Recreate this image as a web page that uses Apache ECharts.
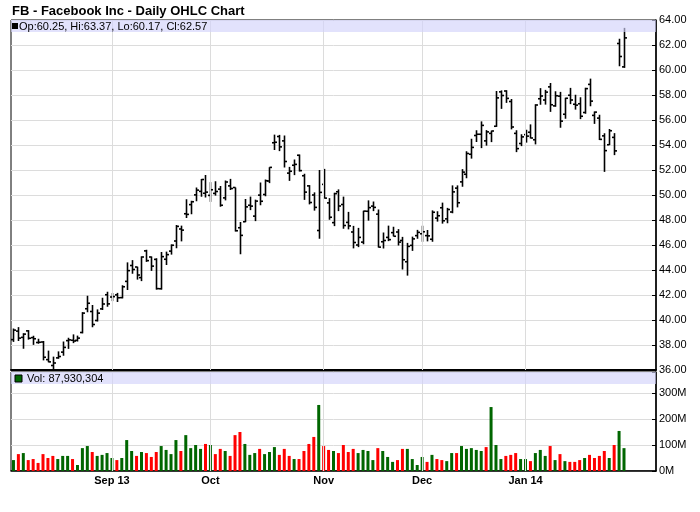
<!DOCTYPE html>
<html>
<head>
<meta charset="utf-8">
<script src="https://cdn.jsdelivr.net/npm/echarts@6/dist/echarts.min.js"></script>
<style>html,body{margin:0;padding:0;background:#fff}#c{width:700px;height:512px}</style>
</head>
<body>
<div id="c"></div>
<script>
const dates = [
'2013-08-05','2013-08-06','2013-08-07','2013-08-08','2013-08-09','2013-08-12','2013-08-13','2013-08-14','2013-08-15','2013-08-16',
'2013-08-19','2013-08-20','2013-08-21','2013-08-22','2013-08-23','2013-08-26','2013-08-27','2013-08-28','2013-08-29','2013-08-30',
'2013-09-03','2013-09-04','2013-09-05','2013-09-06','2013-09-09','2013-09-10','2013-09-11','2013-09-12','2013-09-13','2013-09-16',
'2013-09-17','2013-09-18','2013-09-19','2013-09-20','2013-09-23','2013-09-24','2013-09-25','2013-09-26','2013-09-27','2013-09-30',
'2013-10-01','2013-10-02','2013-10-03','2013-10-04','2013-10-07','2013-10-08','2013-10-09','2013-10-10','2013-10-11','2013-10-14',
'2013-10-15','2013-10-16','2013-10-17','2013-10-18','2013-10-21','2013-10-22','2013-10-23','2013-10-24','2013-10-25','2013-10-28',
'2013-10-29','2013-10-30','2013-10-31','2013-11-01','2013-11-04','2013-11-05','2013-11-06','2013-11-07','2013-11-08','2013-11-11',
'2013-11-12','2013-11-13','2013-11-14','2013-11-15','2013-11-18','2013-11-19','2013-11-20','2013-11-21','2013-11-22','2013-11-25',
'2013-11-26','2013-11-27','2013-11-29','2013-12-02','2013-12-03','2013-12-04','2013-12-05','2013-12-06','2013-12-09','2013-12-10',
'2013-12-11','2013-12-12','2013-12-13','2013-12-16','2013-12-17','2013-12-18','2013-12-19','2013-12-20','2013-12-23','2013-12-24',
'2013-12-26','2013-12-27','2013-12-30','2013-12-31','2014-01-02','2014-01-03','2014-01-06','2014-01-07','2014-01-08','2014-01-09',
'2014-01-10','2014-01-13','2014-01-14','2014-01-15','2014-01-16','2014-01-17','2014-01-21','2014-01-22','2014-01-23','2014-01-24',
'2014-01-27','2014-01-28','2014-01-29','2014-01-30','2014-01-31'];

const openP = [
38.43,39.11,38.61,39.13,38.59,38.20,38.24,36.83,36.36,36.97,
37.43,38.35,38.38,38.37,39.00,40.90,40.68,39.96,40.89,42.02,
41.84,42.01,41.79,43.09,44.36,44.24,43.39,45.53,45.04,44.85,
42.50,44.86,45.51,46.32,47.28,48.50,49.23,50.01,50.29,50.14,
49.97,50.13,50.47,49.77,50.73,50.60,47.38,47.86,49.18,48.31,
49.99,50.04,51.12,54.18,54.68,54.33,51.75,52.38,53.18,51.54,
50.73,50.00,47.16,50.85,49.37,47.79,50.26,49.24,47.81,47.04,
46.00,46.23,48.70,49.11,48.47,46.26,46.61,46.99,47.04,46.36,
44.66,45.97,46.75,46.90,46.75,46.46,48.15,48.98,48.09,48.64,
50.55,51.05,51.66,53.26,54.76,54.86,54.33,54.93,55.50,58.25,
58.32,57.48,54.93,54.12,54.83,55.02,54.42,57.70,57.60,58.65,
57.13,57.91,56.46,57.98,57.26,57.30,56.60,58.85,56.37,56.15,
54.73,54.02,54.61,62.12,60.25];

const highP = [
39.32,39.43,38.94,39.19,38.74,38.50,38.32,37.55,37.07,37.49,
38.28,38.58,38.85,38.75,40.63,41.94,41.20,40.85,41.78,42.26,
42.16,42.17,42.78,44.61,44.79,44.26,45.09,45.62,45.08,44.94,
45.44,45.47,46.05,47.60,47.55,49.66,49.54,50.60,51.28,51.60,
51.03,51.10,50.72,51.16,51.29,50.60,47.84,49.68,49.87,49.63,
51.00,51.24,52.22,54.83,54.81,54.76,52.25,52.84,53.24,51.70,
50.79,50.21,52.00,52.09,49.75,50.18,50.45,49.87,48.65,47.53,
47.37,48.74,49.57,49.48,48.84,47.00,47.55,47.46,47.27,46.65,
46.17,46.67,47.21,47.54,47.20,48.77,48.70,49.39,48.97,50.77,
50.77,52.07,53.50,54.50,55.18,55.89,55.19,55.15,58.32,58.37,
58.38,57.68,55.18,54.86,55.22,55.65,57.26,58.55,58.41,58.96,
58.30,58.25,57.78,58.57,58.02,57.82,58.58,59.31,56.68,56.42,
54.94,55.28,54.95,62.50,63.37];

const lowP = [
38.25,38.32,37.70,38.43,38.01,38.10,36.77,36.62,36.02,36.90,
37.14,37.69,38.15,38.28,38.93,40.62,39.42,39.88,40.80,41.06,
41.51,41.44,41.73,42.40,43.70,43.23,43.11,44.65,43.93,42.43,
42.43,44.40,45.23,45.74,46.29,48.16,48.46,49.50,49.86,49.80,
49.45,49.95,49.06,49.57,50.40,47.08,45.26,47.83,48.79,47.91,
49.18,49.90,50.95,53.60,53.51,52.20,51.13,51.59,51.88,49.61,
49.25,48.75,46.50,49.72,48.02,47.51,48.71,47.30,47.25,45.73,
45.83,46.06,47.95,48.71,45.80,45.72,46.31,46.69,45.96,44.04,
43.55,45.53,46.50,46.26,46.29,46.26,47.87,47.71,47.74,48.54,
49.01,50.66,51.34,52.91,54.24,53.75,53.95,54.23,55.45,56.89,
57.37,55.25,53.43,53.91,54.19,54.53,54.05,57.22,57.23,56.65,
57.06,55.38,56.10,57.27,56.83,56.07,56.50,57.10,55.69,54.40,
51.85,54.00,53.19,60.30,60.17];

const closeP = [
39.19,38.55,38.87,38.54,38.50,38.22,37.02,36.65,36.56,37.08,
37.81,38.41,38.32,38.55,40.55,41.34,39.64,40.55,41.28,41.29,
41.87,41.78,42.66,43.95,44.04,43.60,45.04,44.75,44.31,42.51,
45.07,45.23,45.98,47.49,47.19,48.45,49.46,50.39,51.24,50.23,
50.42,50.28,49.18,51.04,50.52,47.14,46.77,49.05,49.11,49.51,
49.50,51.14,52.21,54.22,53.85,52.68,51.90,52.45,51.95,50.23,
49.40,49.01,50.21,49.75,48.22,50.11,49.12,47.56,47.53,46.20,
46.61,48.71,48.99,49.01,45.83,46.36,46.43,46.70,46.23,44.82,
45.89,46.49,47.01,47.06,46.73,48.62,48.34,47.94,48.84,50.25,
49.38,51.83,53.32,53.81,54.86,55.57,55.05,55.12,57.77,57.96,
57.73,55.44,53.71,54.65,54.71,54.56,57.20,57.92,58.23,57.22,
57.94,55.91,57.74,57.60,57.19,56.30,58.51,57.51,56.63,54.45,
53.55,55.14,53.53,61.08,62.57];

// volume in millions of shares
const volumeM = [
42,65,69,42,46,31,65,50,58,46,
58,58,46,23,88,96,73,58,62,69,
50,42,50,119,77,58,73,69,54,73,
96,81,65,119,77,138,88,100,85,104,
100,65,85,77,58,138,150,104,62,69,
85,65,73,92,62,85,58,46,46,77,
104,131,254,96,81,77,69,100,73,85,
69,81,77,42,88,77,54,35,42,85,
85,46,23,54,35,62,46,42,38,69,
69,96,85,88,81,77,92,246,100,46,
58,62,69,46,46,38,69,81,58,96,
42,65,38,35,35,42,50,62,50,58,
77,50,100,154,87.930304];

const prevCloseBeforeFirst = 38.05;
const tickDates = ['2013-09-03','2013-10-01','2013-11-01','2013-12-02','2014-01-02'];
const tickLabels = ['Sep 13','Oct','Nov','Dec','Jan 14'];
const emptySlots = 6;

const FONT = "'Liberation Sans', Arial, sans-serif";
const categories = dates.concat(Array.from({length: emptySlots}, (_, k) => 'pad' + k));
const tickIdx = tickDates.map(d => dates.indexOf(d));
const N = dates.length;
const last = N - 1;

const ohlcData = dates.map((d, i) => [i, openP[i], closeP[i], lowP[i], highP[i]]);
const volData = volumeM.map((v, i) => {
  const prev = i === 0 ? prevCloseBeforeFirst : closeP[i - 1];
  return { value: v, itemStyle: { color: closeP[i] >= prev ? '#006600' : '#ff0000' } };
});

function renderOHLC(params, api) {
  const i = api.value(0);
  const x = Math.round(api.coord([i, api.value(1)])[0]) + 0.5;
  const o = api.coord([i, api.value(1)])[1];
  const c = api.coord([i, api.value(2)])[1];
  const l = api.coord([i, api.value(3)])[1];
  const h = api.coord([i, api.value(4)])[1];
  const st = { stroke: '#000', lineWidth: 1.6 };
  return {
    type: 'group',
    children: [
      { type: 'line', shape: { x1: x, y1: h, x2: x, y2: l }, style: st },
      { type: 'line', shape: { x1: x - 2.5, y1: o, x2: x, y2: o }, style: st },
      { type: 'line', shape: { x1: x, y1: c, x2: x + 2.5, y2: c }, style: st }
    ]
  };
}

const L = 11, R = 44;
const fmtInt = n => Math.round(n).toString().replace(/\B(?=(\d{3})+(?!\d))/g, ',');
const legendText = 'Op:' + openP[last].toFixed(2) + ', Hi:' + highP[last].toFixed(2) +
  ', Lo:' + lowP[last].toFixed(2) + ', Cl:' + closeP[last].toFixed(2);
const volText = 'Vol: ' + fmtInt(volumeM[last] * 1e6);

const gridLineMarks = tickIdx.map(ix => ({ xAxis: ix }));

const chart = echarts.init(document.getElementById('c'), null, { renderer: 'canvas' });
chart.setOption({
  animation: false,
  backgroundColor: '#fff',
  title: {
    text: 'FB - Facebook Inc - Daily OHLC Chart',
    left: 7, top: 0,
    textStyle: { fontFamily: FONT, fontSize: 13, fontWeight: 'bold', color: '#000' }
  },
  grid: [
    { left: L, right: R, top: 20, height: 350, show: true, borderColor: '#000', borderWidth: 1, backgroundColor: 'transparent' },
    { left: L, right: R, top: 372, height: 99, show: true, borderColor: '#000', borderWidth: 1, backgroundColor: 'transparent' }
  ],
  xAxis: [
    {
      type: 'category', gridIndex: 0, data: categories, boundaryGap: true,
      axisLine: { show: true, lineStyle: { color: '#000', width: 2 } },
      axisTick: { show: false }, axisLabel: { show: false }, splitLine: { show: false }
    },
    {
      type: 'category', gridIndex: 1, data: categories, boundaryGap: true,
      axisLine: { show: true, lineStyle: { color: '#000', width: 1.5 } },
      axisTick: { show: false }, splitLine: { show: false },
      axisLabel: {
        show: true, margin: 4,
        interval: (idx) => tickIdx.indexOf(idx) >= 0,
        formatter: (val, idx) => { const k = tickIdx.indexOf(idx); return k >= 0 ? tickLabels[k] : ''; },
        fontFamily: FONT, fontSize: 11, fontWeight: 'bold', color: '#000'
      }
    }
  ],
  yAxis: [
    {
      type: 'value', gridIndex: 0, position: 'right', min: 36, max: 64, interval: 2,
      axisLine: { show: true, lineStyle: { color: '#000', width: 1.5 } },
      axisTick: { show: true, inside: true, length: 4, lineStyle: { color: '#000' } },
      axisLabel: { show: true, margin: 3, formatter: v => v.toFixed(2), fontFamily: FONT, fontSize: 11, color: '#000' },
      splitLine: { show: true, lineStyle: { color: '#dcdcdc', width: 1 } }
    },
    {
      type: 'value', gridIndex: 1, position: 'right', min: 0, max: 380.77, interval: 100,
      axisLine: { show: true, lineStyle: { color: '#000', width: 1.5 } },
      axisTick: { show: true, inside: true, length: 4, lineStyle: { color: '#000' } },
      axisLabel: { show: true, margin: 3, formatter: v => (Math.abs(v % 100) < 1e-6 ? v + 'M' : ''), fontFamily: FONT, fontSize: 11, color: '#000' },
      splitLine: { show: true, lineStyle: { color: '#dcdcdc', width: 1 } }
    }
  ],
  series: [
    {
      name: 'refPrice', type: 'line', xAxisIndex: 0, yAxisIndex: 0,
      data: closeP, showSymbol: false, silent: true, lineStyle: { opacity: 0 }, z: 1,
      markLine: {
        silent: true, symbol: ['none', 'none'], animation: false,
        lineStyle: { color: '#dcdcdc', type: 'solid', width: 1 },
        label: { show: false },
        data: gridLineMarks.concat([{
          yAxis: closeP[last],
          lineStyle: { opacity: 0 },
          label: {
            show: true, position: 'end', distance: 1,
            formatter: closeP[last].toFixed(2),
            backgroundColor: '#000', color: '#fff', padding: [1, 1, 0, 1],
            fontFamily: FONT, fontSize: 11
          }
        }])
      }
    },
    {
      name: 'OHLC', type: 'custom', xAxisIndex: 0, yAxisIndex: 0,
      data: ohlcData, renderItem: renderOHLC, encode: { x: 0, y: [1, 2, 3, 4] }, z: 3
    },
    {
      name: 'Volume', type: 'bar', xAxisIndex: 1, yAxisIndex: 1,
      data: volData, barWidth: 3, z: 3,
      markLine: {
        silent: true, symbol: ['none', 'none'], animation: false,
        lineStyle: { color: '#dcdcdc', type: 'solid', width: 1 },
        label: { show: false },
        data: gridLineMarks
      }
    }
  ],
  graphic: [
    { type: 'rect', z: 50, shape: { x: 11, y: 20, width: 645, height: 12 }, style: { fill: 'rgba(210,210,250,0.65)' } },
    { type: 'rect', z: 51, shape: { x: 12, y: 23, width: 6, height: 6 }, style: { fill: '#000' } },
    { type: 'text', z: 51, x: 19, y: 26.5, style: { text: legendText, fill: '#000', font: '11px ' + FONT, textVerticalAlign: 'middle', verticalAlign: 'middle' } },
    { type: 'rect', z: 50, shape: { x: 11, y: 372, width: 645, height: 12 }, style: { fill: 'rgba(210,210,250,0.65)' } },
    { type: 'rect', z: 51, shape: { x: 15, y: 375, width: 7, height: 7 }, style: { fill: '#006600', stroke: '#000', lineWidth: 1 } },
    { type: 'text', z: 51, x: 27, y: 378.5, style: { text: volText, fill: '#000', font: '11px ' + FONT, textVerticalAlign: 'middle', verticalAlign: 'middle' } }
  ]
});
</script>
</body>
</html>
